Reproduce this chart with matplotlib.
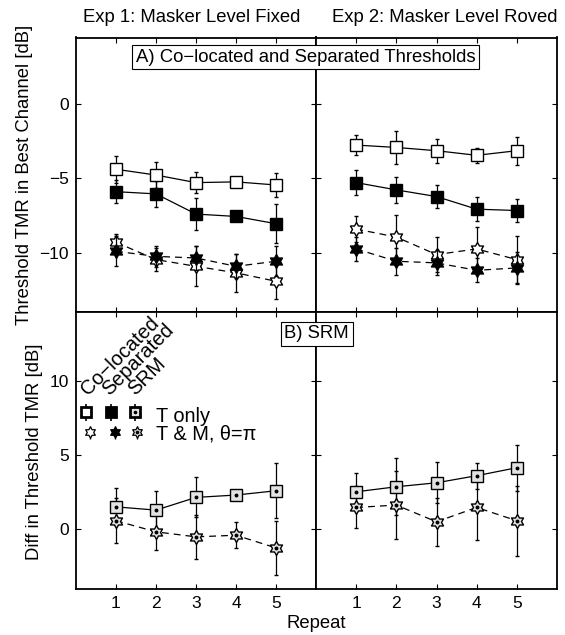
import numpy as np
import matplotlib
matplotlib.use("Agg")
import matplotlib.pyplot as plt
from matplotlib.path import Path

plt.rcParams['font.family'] = ['Liberation Sans', 'DejaVu Sans']

# ---------------- data ----------------
repeat = [1, 2, 3, 4, 5]

# Exp 1: masker level fixed  (threshold TMR, dB)
e1_coloc_T = [-4.38, -4.77, -5.28, -5.23, -5.44]
e1_coloc_T_err = [0.90, 0.90, 0.72, 0.25, 0.80]
e1_sep_T = [-5.89, -6.04, -7.40, -7.56, -8.05]
e1_sep_T_err = [0.77, 0.90, 1.05, 0.25, 1.30]
e1_coloc_TM = [-9.30, -10.47, -10.92, -11.36, -11.93]
e1_coloc_TM_err = [0.55, 0.75, 1.34, 1.27, 1.22]
e1_sep_TM = [-9.91, -10.25, -10.36, -10.92, -10.58]
e1_sep_TM_err = [1.00, 0.70, 0.80, 0.80, 1.00]

# Exp 2: masker level roved
e2_coloc_T = [-2.75, -2.91, -3.13, -3.44, -3.13]
e2_coloc_T_err = [0.67, 1.12, 0.82, 0.49, 0.95]
e2_sep_T = [-5.28, -5.77, -6.22, -7.07, -7.16]
e2_sep_T_err = [0.84, 0.87, 0.75, 0.82, 0.76]
e2_coloc_TM = [-8.41, -8.95, -10.13, -9.75, -10.47]
e2_coloc_TM_err = [0.90, 1.50, 1.20, 1.45, 1.57]
e2_sep_TM = [-9.75, -10.58, -10.69, -11.19, -11.03]
e2_sep_TM_err = [0.83, 0.90, 0.85, 0.80, 1.10]

# Spatial release from masking (difference in threshold TMR, dB)
e1_srm_T = [1.51, 1.29, 2.15, 2.31, 2.60]
e1_srm_T_err = [1.25, 1.29, 1.36, 0.20, 1.87]
e1_srm_TM = [0.57, -0.18, -0.52, -0.41, -1.27]
e1_srm_TM_err = [1.54, 1.20, 1.47, 0.88, 1.85]
e2_srm_T = [2.53, 2.87, 3.14, 3.62, 4.16]
e2_srm_T_err = [1.25, 1.93, 1.38, 0.88, 1.55]
e2_srm_TM = [1.47, 1.63, 0.50, 1.47, 0.57]
e2_srm_TM_err = [1.42, 2.30, 1.63, 2.20, 2.38]

# key drawn inside panel B (x, y in data units)
key_cols = ["Co\u2212located", "Separated", "SRM"]
key_col_x = [0.30, 0.84, 1.48]
key_col_y = 9.0
key_sq_x = [0.26, 0.87, 1.48]
key_sq_y = 7.90
key_st_x = [0.36, 0.975, 1.525]
key_st_y = 6.55
key_rows = ["T only", "T & M, \u03b8=\u03c0"]
key_row_x = 1.99
key_row_y = [7.28, 6.04]

col_titles = ["Exp 1: Masker Level Fixed", "Exp 2: Masker Level Roved"]

# ---------------- hexagram marker ----------------
verts = []
for k in range(6):
    a_out = np.deg2rad(90 + 60 * k)
    a_in = np.deg2rad(120 + 60 * k)
    verts.append((np.cos(a_out), np.sin(a_out)))
    verts.append((np.cos(a_in) / np.sqrt(3), np.sin(a_in) / np.sqrt(3)))
verts.append(verts[0])
codes = [Path.MOVETO] + [Path.LINETO] * 11 + [Path.CLOSEPOLY]
hexagram = Path(verts, codes)

GRAY = '#e2e2e2'
FS = 13.3
KFS = 14.4
TFS = 12.5
DASH = (0, (5.5, 4))

W, H = 565, 635
fig = plt.figure(figsize=(W / 100, H / 100), dpi=100)

xl = [76, 316, 557]
yt = [37.5, 312, 589]


def make_ax(c, r):
    x0 = xl[c] / W
    w = (xl[c + 1] - xl[c]) / W
    y0 = 1 - yt[r + 1] / H
    h = (yt[r + 1] - yt[r]) / H
    return fig.add_axes([x0, y0, w, h])


def style(ax, ylim, yticks, xlab, ylab):
    ax.set_xlim(0, 6)
    ax.set_ylim(*ylim)
    ax.set_xticks(repeat)
    ax.set_yticks(yticks)
    ax.tick_params(direction='in', length=3.5, width=0.8, top=True, right=True,
                   labelsize=TFS, pad=5, labelbottom=xlab, labelleft=ylab)
    for s in ax.spines.values():
        s.set_linewidth(1.3)


def series(ax, y, err, marker, fc, ms, ls, dot=False, mew=1.0, z=3):
    ax.errorbar(repeat, y, yerr=err, color='black', marker=marker, mfc=fc,
                mec='black', ms=ms, mew=mew, ls=ls, lw=0.9, elinewidth=0.9,
                capsize=1.6, capthick=0.9, zorder=z)
    if dot:
        ax.plot(repeat, y, ls='none', marker='o', ms=1.8, color='black', zorder=z + 0.5)


top = [
    (e1_coloc_T, e1_coloc_T_err, e1_sep_T, e1_sep_T_err,
     e1_coloc_TM, e1_coloc_TM_err, e1_sep_TM, e1_sep_TM_err),
    (e2_coloc_T, e2_coloc_T_err, e2_sep_T, e2_sep_T_err,
     e2_coloc_TM, e2_coloc_TM_err, e2_sep_TM, e2_sep_TM_err),
]
bottom = [
    (e1_srm_T, e1_srm_T_err, e1_srm_TM, e1_srm_TM_err),
    (e2_srm_T, e2_srm_T_err, e2_srm_TM, e2_srm_TM_err),
]

axes_top = []
axes_bot = []
for c in range(2):
    ax = make_ax(c, 0)
    cT, cTe, sT, sTe, cM, cMe, sM, sMe = top[c]
    series(ax, cT, cTe, 's', 'white', 8.5, '-')
    series(ax, sT, sTe, 's', 'black', 8.5, '-')
    series(ax, cM, cMe, hexagram, 'white', 10, DASH)
    series(ax, sM, sMe, hexagram, 'black', 10, DASH, z=3.2)
    style(ax, (-14, 4.5), [-10, -5, 0], False, c == 0)
    axes_top.append(ax)

    ax = make_ax(c, 1)
    rT, rTe, rM, rMe = bottom[c]
    series(ax, rT, rTe, 's', GRAY, 8.5, '-', dot=True)
    series(ax, rM, rMe, hexagram, GRAY, 10, DASH, dot=True)
    style(ax, (-4.05, 14.7), [0, 5, 10], True, c == 0)
    axes_bot.append(ax)

# key inside the lower-left panel
kax = axes_bot[0]
for name, x in zip(key_cols, key_col_x):
    kax.text(x, key_col_y, name, rotation=45, rotation_mode='anchor',
             ha='left', va='baseline', fontsize=KFS, zorder=6)
key_fc = ['white', 'black', GRAY]
for i in range(3):
    kax.errorbar([key_sq_x[i]], [key_sq_y], yerr=[0.6], color='black', marker='s',
                 mfc=key_fc[i], mec='black', ms=7, mew=2.0, elinewidth=1.2,
                 capsize=0, zorder=5)
    kax.errorbar([key_st_x[i]], [key_st_y], yerr=[0.45], color='black', marker=hexagram,
                 mfc=key_fc[i], mec='black', ms=8, mew=0.9, elinewidth=1.0,
                 capsize=0, zorder=5)
kax.plot([key_sq_x[2], key_st_x[2]], [key_sq_y, key_st_y], ls='none', marker='o',
         ms=1.6, color='black', zorder=6)
for label, y in zip(key_rows, key_row_y):
    kax.text(key_row_x, y, label, ha='left', va='baseline', fontsize=KFS)

# column titles and axis labels
fig.text(191.5 / W, 1 - 17 / H, col_titles[0], ha='center', va='center', fontsize=FS)
fig.text(444.5 / W, 1 - 17 / H, col_titles[1], ha='center', va='center', fontsize=FS)
fig.text(24.5 / W, 1 - 175 / H, "Threshold TMR in Best Channel [dB]", rotation=90,
         ha='center', va='center', fontsize=FS)
fig.text(35 / W, 1 - 452 / H, "Diff in Threshold TMR [dB]", rotation=90,
         ha='center', va='center', fontsize=FS)
fig.text(316 / W, 1 - 624 / H, "Repeat", ha='center', va='center', fontsize=FS)

box = dict(boxstyle='square,pad=0.2', fc='white', ec='black', lw=0.8)
fig.text(305.5 / W, 1 - 57 / H, "A) Co\u2212located and Separated Thresholds",
         ha='center', va='center', fontsize=FS, bbox=box, zorder=10)
fig.text(316.7 / W, 1 - 333.8 / H, "B) SRM", ha='center', va='center',
         fontsize=FS, bbox=box, zorder=10)

fig.savefig("out.png", dpi=100)
